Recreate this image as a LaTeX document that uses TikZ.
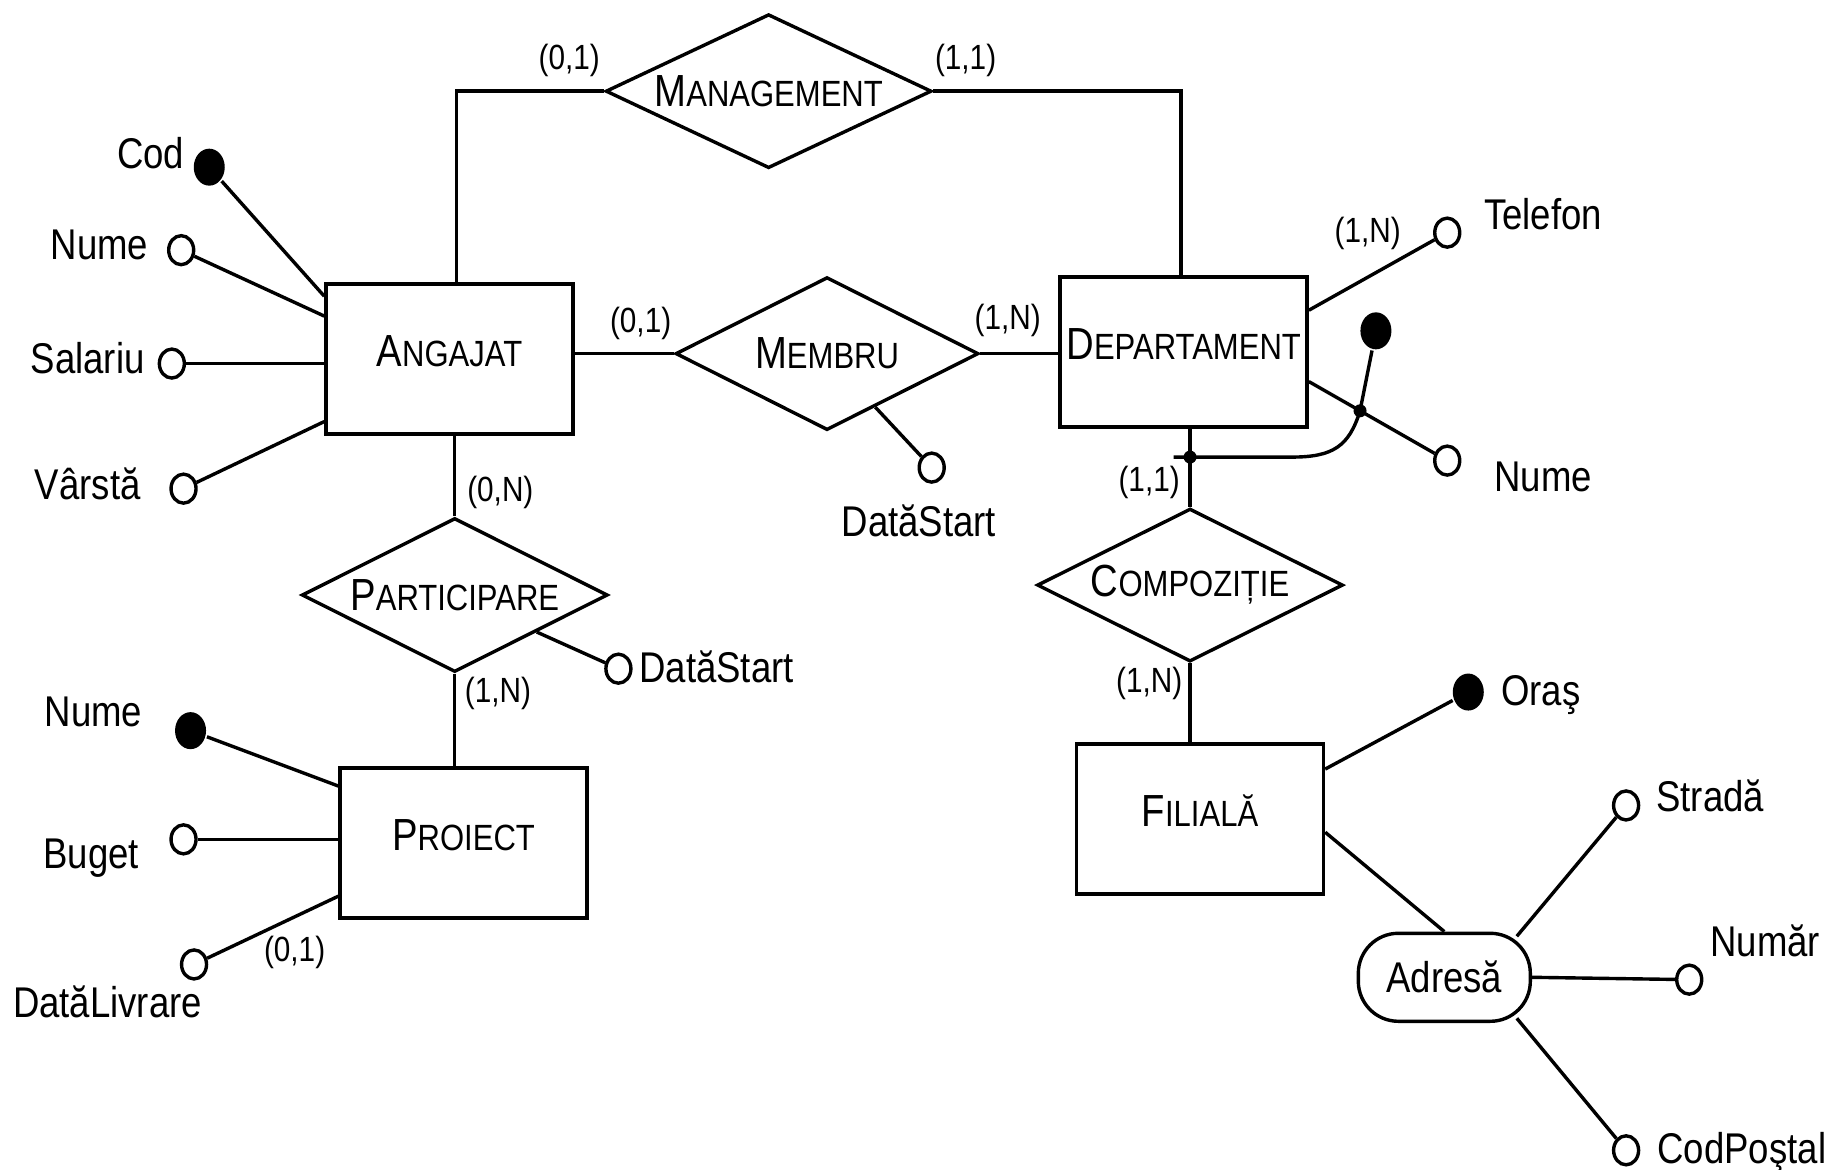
\documentclass[tikz,border=0pt]{standalone}
\usepackage{fontspec}
\setmainfont{Liberation Sans}[FakeStretch=0.85]
\usetikzlibrary{shapes.geometric,calc}
\newcommand\ercap[2]{{\fontsize{45pt}{45pt}\selectfont #1}{\fontsize{36.5pt}{36.5pt}\selectfont #2}}
\begin{document}
\begin{tikzpicture}[x=1.169pt,y=-1.169pt, line width=3.4pt,
 entity/.style={draw, rectangle, minimum width=247pt, minimum height=150pt, inner sep=0pt, text depth=16pt},
 rel/.style={draw, diamond, minimum width=306pt, minimum height=154pt, inner sep=0pt, aspect=2},
 attr/.style={draw, ellipse, minimum width=25pt, minimum height=29pt, inner sep=0pt},
 keyattr/.style={fill, ellipse, minimum width=31pt, minimum height=37pt, inner sep=0pt},
 lab/.style={font=\fontsize{43pt}{43pt}\selectfont, inner sep=0pt, text depth=0pt},
 card/.style={font=\fontsize{35pt}{35pt}\selectfont, inner sep=0pt},
 jdot/.style={fill, circle, minimum size=13pt, inner sep=0pt}]
\useasboundingbox[fill=white] (0,0) rectangle (1568,1000);

% entities
\node[entity] (ang)  at (384.5,307)  {\ercap{A}{NGAJAT}};
\node[entity] (dep)  at (1012.5,301) {\ercap{D}{EPARTAMENT}};
\node[entity] (proj) at (396.5,721)  {\ercap{P}{ROIECT}};
\node[entity] (fil)  at (1026.5,700.5) {\ercap{F}{ILIALĂ}};

% relationships
\node[rel, minimum width=326pt] (mgmt) at (657.5,78) {\ercap{M}{ANAGEMENT}};
\node[rel, minimum width=303pt, minimum height=153pt] (memb) at (707.5,302.5) {\ercap{M}{EMBRU}};
\node[rel] (part) at (389,509) {\ercap{P}{ARTICIPARE}};
\node[rel, minimum height=153pt] (comp) at (1018,500.5) {\ercap{C}{OMPOZIȚIE}};

% composite attribute
\node[draw, rounded corners=40pt, minimum width=172pt, minimum height=88pt, inner sep=0pt,
      font=\fontsize{43pt}{43pt}\selectfont] (adr) at (1235.5,836) {Adresă};

% attribute circles
\node[keyattr] (codc) at (179,143) {};
\node[attr] (numc) at (155,214) {};
\node[attr] (salc) at (147,311) {};
\node[attr] (varc) at (157,418) {};
\node[attr] (ds1c) at (797,400) {};
\node[attr] (ds2c) at (529,572) {};
\node[keyattr] (pnc) at (163,625) {};
\node[attr] (bugc) at (157,718) {};
\node[attr] (dlc) at (166,825) {};
\node[attr] (telc) at (1238,199) {};
\node[attr] (dnc) at (1238,394) {};
\node[keyattr] (dkey) at (1177,283) {};
\node[keyattr] (orc) at (1256,592) {};
\node[attr] (strc) at (1391,689) {};
\node[attr] (nrc) at (1445,838) {};
\node[attr] (cpc) at (1391,984) {};

% attribute labels
\node[lab] (codl) at (129,131) {Cod};
\node[lab] (numl) at (85,209) {Nume};
\node[lab] (sall) at (75,306) {Salariu};
\node[lab] (varl) at (75,414) {Vârstă};
\node[lab] (ds1l) at (786,445) {DatăStart};
\node[lab] (ds2l) at (613,570) {DatăStart};
\node[lab] (pnl) at (80,609) {Nume};
\node[lab] (bugl) at (78,730) {Buget};
\node[lab] (dll) at (92,857) {DatăLivrare};
\node[lab] (tell) at (1320,183) {Telefon};
\node[lab] (dnl) at (1320,408) {Nume};
\node[lab] (orl) at (1318,591) {Oraş};
\node[lab] (strl) at (1463,681) {Stradă};
\node[lab] (nrl) at (1510,805) {Număr};
\node[lab] (cpl) at (1490,982) {CodPoştal};

% cardinalities
\node[card] (k1) at (487,52) {(0,1)};
\node[card] (k2) at (826,52) {(1,1)};
\node[card] (k3) at (548,277) {(0,1)};
\node[card] (k4) at (862,274) {(1,N)};
\node[card] (k5) at (428,421) {(0,N)};
\node[card] (k6) at (426,593) {(1,N)};
\node[card] (k7) at (252,815) {(0,1)};
\node[card] (k8) at (1170,200) {(1,N)};
\node[card] (k9) at (983,413) {(1,1)};
\node[card] (k10) at (983,585) {(1,N)};

% relationship connectors
\draw ($(ang.north west)+(113,0)$) |- (mgmt.west);
\draw (mgmt.east) -| ($(dep.north west)+(105,0)$);
\draw (memb.west) -- (memb.west -| ang.east);
\draw (memb.east) -- (memb.east -| dep.west);
\draw (part.north) -- (part.north |- ang.south);
\draw (part.south) -- (part.south |- proj.north);
\draw (comp.north) -- (comp.north |- dep.south);
\draw (comp.south) -- (comp.south |- fil.north);

% attribute connectors
\draw (codc) -- ($(ang.north west)+(0,12)$);
\draw (numc) -- ($(ang.north west)+(0,29)$);
\draw (salc) -- (salc -| ang.west);
\draw (varc) -- ($(ang.south west)+(0,-12)$);
\draw ($(memb.south)!0.315!(memb.east)$) -- (ds1c);
\draw ($(part.south)!0.53!(part.east)$) -- (ds2c);
\draw (pnc) -- ($(proj.north west)+(0,17)$);
\draw (bugc) -- (bugc -| proj.west);
\draw (dlc) -- ($(proj.south west)+(0,-20)$);
\draw (telc) -- ($(dep.north east)+(0,30)$);
\coordinate (dnA) at ($(dep.north east)+(0,91)$);
\draw (dnc) -- (dnA);
\draw (orc) -- ($(fil.north east)+(0,23)$);
\draw ($(fil.north east)+(0,77)$) -- (adr.north);
\draw ($(adr.north east)+(-13,4)$) -- (strc);
\draw (adr.east) -- (nrc);
\draw ($(adr.south east)+(-13,-4)$) -- (cpc);

% composite identifier of DEPARTAMENT
\node[jdot] (jn) at ($(dnA)!0.37!(dnc)$) {};
\draw (jn.center) -- (dkey);
\coordinate (cbend) at (1105,391);
\coordinate (cend) at (1004,391);
\draw (jn.center) .. controls (1154,382) and (1140,391) .. (cbend) -- (cend);
\node[jdot] (jd2) at (comp.north |- cbend) {};
\end{tikzpicture}
\end{document}
